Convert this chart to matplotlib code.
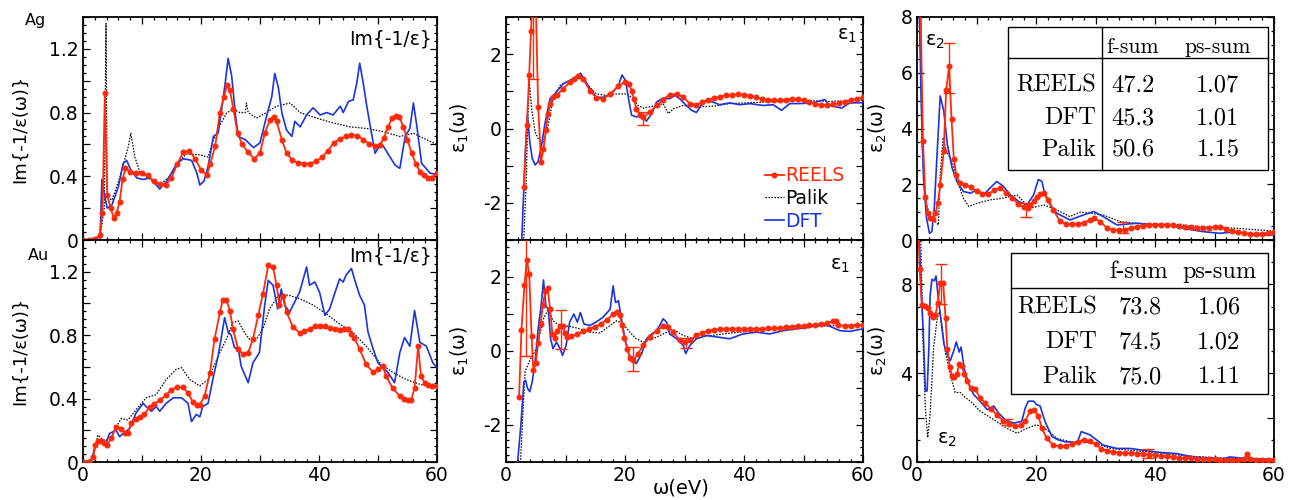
"""Loss function and dielectric function of Ag and Au: REELS vs Palik vs DFT."""

import matplotlib
matplotlib.use("Agg")
import matplotlib.pyplot as plt
from matplotlib.patches import Rectangle
from matplotlib.ticker import MultipleLocator, FuncFormatter

plt.rcParams["font.family"] = ["DejaVu Sans"]
plt.rcParams["axes.unicode_minus"] = False
plt.rcParams["mathtext.default"] = "regular"

RED = "#ff2a0a"
BLUE = "#1a34e0"

# ---------------- data: (omega eV, value) ----------------
ag_loss_reels = [(0, 0), (1, 0), (2, 0.005), (2.8, 0.03), (3.3, 0.17), (3.7, 0.92), (4.1, 0.28), (4.7, 0.20),
                 (5.2, 0.14), (5.7, 0.17), (6.2, 0.24), (6.7, 0.38), (7.2, 0.45), (8, 0.43), (9, 0.42), (10, 0.42),
                 (11, 0.405), (12, 0.37), (13, 0.35), (14, 0.345), (15, 0.39), (16, 0.48), (17, 0.55), (18, 0.56),
                 (19, 0.51), (20, 0.44), (21, 0.41), (21.6, 0.48), (22.4, 0.59), (23.2, 0.80), (23.9, 0.90),
                 (24.4, 0.975), (24.9, 0.94), (25.5, 0.82), (26.2, 0.67), (27, 0.60), (28, 0.55), (29, 0.51),
                 (30, 0.545), (30.8, 0.67), (31.7, 0.755), (32.3, 0.775), (32.8, 0.745), (33.7, 0.63), (34.5, 0.545),
                 (35.5, 0.50), (36.5, 0.485), (37.5, 0.48), (38.5, 0.48), (39.5, 0.495), (40.5, 0.52), (41.5, 0.56),
                 (42.5, 0.61), (43.5, 0.635), (44.5, 0.65), (45.5, 0.66), (46.5, 0.655), (47.5, 0.63), (48.5, 0.605),
                 (49.5, 0.59), (50.3, 0.595), (51, 0.64), (51.7, 0.71), (52.4, 0.765), (53, 0.78), (53.6, 0.775),
                 (54.3, 0.71), (55, 0.63), (55.7, 0.545), (56.4, 0.48), (57.1, 0.43), (57.8, 0.405), (58.5, 0.39),
                 (59.2, 0.39), (60, 0.42)]
ag_loss_dft = [(0, 0), (2.9, 0), (3.2, 0.38), (3.6, 0.29), (4.1, 0.20), (4.9, 0.22), (6.0, 0.335), (6.8, 0.48),
               (7.4, 0.50), (8.1, 0.44), (9.1, 0.39), (10.2, 0.38), (11.4, 0.39), (13.0, 0.32), (14.2, 0.37),
               (15.9, 0.48), (17.0, 0.51), (18.4, 0.50), (19.3, 0.42), (19.8, 0.345), (20.5, 0.37), (21.2, 0.46),
               (22.1, 0.65), (22.9, 0.67), (23.5, 0.82), (24.1, 0.985), (24.6, 1.14), (25.2, 1.03), (25.8, 0.80),
               (26.3, 0.65), (27.5, 0.63), (28.9, 0.58), (30.0, 0.61), (31.1, 0.775), (32.0, 0.90), (32.5, 1.045),
               (33.1, 0.96), (33.7, 0.80), (34.5, 0.69), (35.4, 0.65), (35.9, 0.745), (36.8, 0.71), (37.9, 0.785),
               (39.0, 0.83), (40.2, 0.785), (41.3, 0.80), (42.4, 0.785), (43.6, 0.84), (44.1, 0.80), (45.0, 0.87),
               (45.8, 0.88), (46.4, 0.985), (46.9, 1.11), (47.5, 0.985), (48.1, 0.84), (48.9, 0.67), (49.5, 0.545),
               (50.1, 0.58), (50.9, 0.59), (51.8, 0.535), (52.9, 0.47), (53.7, 0.45), (54.6, 0.65), (55.4, 0.70),
               (56.0, 0.86), (56.6, 0.71), (57.4, 0.48), (57.9, 0.46), (58.8, 0.42), (60, 0.41)]
ag_loss_palik = [(0, 0), (2.9, 0.02), (3.6, 0.2), (3.9, 1.36), (4.1, 0.27), (4.9, 0.25), (6.3, 0.40), (7.7, 0.59),
                 (8.1, 0.67), (8.8, 0.52), (9.7, 0.42), (11.4, 0.38), (13.0, 0.345), (14.7, 0.40), (16.4, 0.50),
                 (17.6, 0.54), (19.8, 0.535), (21.2, 0.52), (22.1, 0.63), (23.2, 0.72), (24.4, 0.80), (25.5, 0.82),
                 (26.6, 0.80), (27.5, 0.80), (27.7, 0.86), (28.0, 0.80), (29.4, 0.765), (31.1, 0.80), (32.8, 0.84),
                 (35.1, 0.86), (36.8, 0.80), (39.6, 0.765), (42.4, 0.735), (45.3, 0.71), (48.1, 0.70), (50.9, 0.68),
                 (53.7, 0.65), (56.0, 0.67), (58.2, 0.63), (60, 0.60)]

au_loss_reels = [(0, 0), (1, 0), (1.7, 0.03), (2.1, 0.105), (2.5, 0.13), (3.1, 0.13), (3.6, 0.12), (4, 0.105),
                 (4.8, 0.15), (5.6, 0.22), (6.5, 0.21), (7.1, 0.18), (7.6, 0.185), (8.2, 0.245), (9, 0.27),
                 (9.7, 0.285), (10.4, 0.30), (11.3, 0.35), (12, 0.365), (13, 0.39), (14, 0.42), (15, 0.455),
                 (16, 0.475), (17, 0.47), (17.8, 0.435), (18.6, 0.38), (19.3, 0.36), (19.8, 0.36), (20.6, 0.415),
                 (21.5, 0.56), (22.3, 0.775), (23.2, 0.945), (23.7, 1.02), (24.3, 1.02), (24.9, 0.955), (25.4, 0.84),
                 (26.3, 0.71), (27.1, 0.68), (28, 0.69), (28.8, 0.775), (29.7, 0.925), (30.5, 1.06), (31.4, 1.24),
                 (32.2, 1.23), (32.8, 1.115), (33.3, 0.99), (33.9, 1.05), (34.5, 0.945), (35.6, 0.85), (36.7, 0.815),
                 (37.5, 0.825), (38.4, 0.84), (39.3, 0.855), (40.1, 0.86), (41, 0.855), (41.8, 0.845), (42.7, 0.84),
                 (43.5, 0.835), (44.2, 0.84), (44.9, 0.84), (45.5, 0.81), (46, 0.785), (46.9, 0.71), (48, 0.615),
                 (49.2, 0.565), (50, 0.585), (50.8, 0.605), (51.4, 0.54), (52.5, 0.465), (53.7, 0.415), (54.4, 0.40),
                 (55.1, 0.39), (55.6, 0.39), (56.2, 0.465), (56.8, 0.73), (57.3, 0.54), (57.9, 0.50), (58.5, 0.485),
                 (59.2, 0.48), (60, 0.48)]
au_loss_dft = [(0, 0), (1.4, 0), (2.0, 0.095), (2.8, 0.13), (4.0, 0.13), (4.5, 0.18), (5.6, 0.20), (6.2, 0.16),
               (6.8, 0.18), (7.9, 0.21), (9.0, 0.31), (10.2, 0.37), (10.7, 0.35), (11.6, 0.32), (12.4, 0.35),
               (13.0, 0.32), (14.1, 0.37), (15.3, 0.405), (16.7, 0.405), (17.8, 0.37), (18.4, 0.255), (19.2, 0.30),
               (19.8, 0.285), (20.3, 0.35), (21.2, 0.37), (22.0, 0.52), (22.9, 0.67), (23.4, 0.775), (24.0, 0.91),
               (24.6, 0.82), (25.1, 0.80), (25.7, 0.72), (26.3, 0.72), (26.8, 0.605), (28.0, 0.50), (28.8, 0.625),
               (29.9, 0.69), (30.8, 0.99), (31.4, 1.145), (32.2, 1.115), (33.0, 0.965), (33.6, 1.09), (34.2, 0.99),
               (35.0, 0.945), (35.9, 1.01), (36.7, 1.07), (37.9, 1.23), (38.4, 1.115), (39.3, 1.135), (40.1, 1.07),
               (41.0, 0.925), (41.8, 0.965), (42.9, 1.09), (43.5, 1.155), (44.1, 1.135), (44.6, 1.18), (45.5, 1.22),
               (46.0, 1.155), (46.9, 1.05), (47.7, 0.99), (48.3, 0.82), (49.2, 0.71), (50.0, 0.625), (50.8, 0.595),
               (51.7, 0.565), (52.8, 0.50), (53.7, 0.69), (54.5, 0.785), (55.4, 0.73), (56.2, 0.955), (57.1, 0.755),
               (58.2, 0.73), (59.3, 0.625), (60, 0.595)]
au_loss_palik = [(0, 0), (1.7, 0.02), (2.5, 0.17), (3.4, 0.14), (4.5, 0.14), (5.6, 0.22), (6.5, 0.275), (7.6, 0.265),
                 (9.0, 0.33), (10.7, 0.405), (12.4, 0.425), (14.1, 0.52), (15.8, 0.585), (16.7, 0.595), (18.1, 0.52),
                 (19.8, 0.48), (21.2, 0.52), (23.2, 0.69), (24.3, 0.775), (25.4, 0.88), (26.3, 0.89), (27.4, 0.815),
                 (28.2, 0.775), (29.4, 0.775), (30.5, 0.84), (31.6, 0.965), (33.3, 1.06), (35.0, 1.05), (36.7, 1.03),
                 (39.0, 0.99), (41.2, 0.935), (43.5, 0.87), (45.8, 0.815), (48.0, 0.73), (50.3, 0.625), (52.5, 0.565),
                 (54.8, 0.52), (57.1, 0.49), (60, 0.47)]

ag_eps1_reels = [(3, -1.58), (3.5, 0.1), (3.9, 1.44), (4.2, 2.62), (4.6, 4.0), (5.0, 3.5), (5.4, 0.58), (5.9, -0.89),
                 (6.3, -0.56), (6.7, -0.03), (7.1, 0.4), (7.4, 0.66), (7.9, 0.84), (8.5, 0.89), (9.6, 1.07),
                 (10.7, 1.24), (11.5, 1.33), (12.1, 1.42), (13, 1.33), (14.1, 1.02), (15.2, 0.82), (16.3, 0.80),
                 (17.5, 0.93), (18.9, 1.14), (20, 1.26), (20.7, 1.2), (21.1, 1.02), (21.5, 0.8), (21.9, 0.53),
                 (22.6, 0.36), (23.1, 0.31), (24.2, 0.44), (25.3, 0.62), (26.4, 0.78), (27.5, 0.91), (28.7, 0.93),
                 (29.8, 0.84), (30.9, 0.67), (32, 0.64), (33, 0.70), (34, 0.77), (35, 0.82), (36, 0.86), (37, 0.89),
                 (38, 0.91), (39, 0.915), (40, 0.91), (41, 0.88), (42, 0.84), (43, 0.8), (44, 0.775), (45, 0.765),
                 (46, 0.76), (47, 0.77), (48, 0.79), (49, 0.80), (50, 0.76), (51, 0.71), (52, 0.66), (53, 0.62),
                 (54, 0.63), (55, 0.65), (56, 0.68), (57, 0.72), (58, 0.77), (59, 0.80), (60, 0.84)]
ag_eps1_dft = [(2.6, -3.2), (3.2, -0.8), (3.6, 0.36), (4.0, -0.36), (4.4, -0.8), (4.9, -0.98), (5.4, -0.89),
               (6.0, -0.44), (6.5, 0.09), (7.4, 0.8), (8.2, 0.93), (9.6, 1.2), (10.7, 1.29), (11.9, 1.38), (12.5, 1.49),
               (13.3, 1.29), (14.1, 1.07), (15.2, 0.84), (16.3, 0.84), (17.7, 0.93), (18.9, 1.16), (19.5, 1.44),
               (20.1, 1.29), (20.6, 0.8), (21.1, 0.36), (21.9, 0.31), (22.8, 0.36), (23.6, 0.2), (24.5, 0.4),
               (25.3, 0.71), (26.4, 0.82), (27.5, 0.80), (28.4, 0.89), (29.2, 0.80), (30.3, 0.62), (31.2, 0.49),
               (32.0, 0.43), (32.8, 0.62), (33.7, 0.76), (34.8, 0.71), (35.9, 0.64), (37.6, 0.69), (39.3, 0.64),
               (41.0, 0.67), (43.2, 0.62), (44.9, 0.64), (46.3, 0.49), (47.7, 0.67), (49.4, 0.67), (51.6, 0.69),
               (53.6, 0.78), (54.4, 0.62), (56.4, 0.55), (57.8, 0.69), (60, 0.69)]
ag_eps1_palik = [(2.9, -3.2), (3.0, -2.9), (3.4, -1.42), (3.6, -0.09), (3.9, 1.29), (4.3, 0.53), (4.9, -0.09),
                 (5.4, -0.27), (6.3, -0.36), (7.1, 0.09), (7.9, 0.8), (9.1, 1.16), (10.7, 1.29), (11.9, 1.42),
                 (13.0, 1.29), (14.1, 1.11), (15.2, 0.93), (16.9, 0.89), (18.6, 0.93), (20.3, 0.93), (21.4, 0.8),
                 (22.2, 0.62), (23.1, 0.55), (25.3, 0.62), (26.4, 0.67), (27.3, 0.4), (28.1, 0.53), (29.8, 0.62),
                 (32.0, 0.58), (34.8, 0.6), (37.6, 0.67), (43.2, 0.71), (48.8, 0.76), (54.4, 0.73), (60, 0.76)]

au_eps1_reels = [(2.2, -1.23), (2.6, 0.58), (3.1, 1.79), (3.5, 2.47), (3.9, 2.09), (4.3, 0.4), (4.6, -0.52),
                 (5.0, -0.32), (5.4, 0.21), (5.8, 0.73), (6.2, 1.24), (6.6, 1.63), (7.0, 1.71), (7.4, 1.13), (7.8, 0.46),
                 (8.2, 0.36), (8.6, 0.53), (9.1, 0.67), (9.5, 0.67), (9.9, 0.49), (10.2, 0.37), (11, 0.40), (12, 0.46),
                 (13, 0.53), (14, 0.59), (15, 0.66), (16, 0.74), (17, 0.85), (18, 0.99), (18.6, 1.06), (19.1, 0.96),
                 (19.5, 0.71), (19.9, 0.35), (20.4, 0.06), (20.8, -0.18), (21.4, -0.25), (22.2, -0.07), (23.1, 0.17),
                 (24.2, 0.38), (25.3, 0.55), (26.4, 0.67), (27.3, 0.64), (28.1, 0.51), (29.2, 0.29), (30, 0.24),
                 (30.9, 0.29), (32, 0.42), (33, 0.49), (34, 0.55), (35, 0.58), (36, 0.59), (37, 0.6), (38, 0.6),
                 (39, 0.6), (40, 0.6), (41, 0.6), (42, 0.6), (43, 0.6), (44, 0.61), (45, 0.61), (46, 0.62), (47, 0.64),
                 (48, 0.66), (49, 0.67), (50, 0.68), (51, 0.69), (52, 0.71), (53, 0.73), (54, 0.76), (55, 0.80),
                 (55.5, 0.82), (55.8, 0.71), (57, 0.67), (58, 0.68), (59, 0.69), (60, 0.69)]
au_eps1_dft = [(1.9, -3.1), (2.5, -2.0), (3.0, -0.83), (3.3, -0.79), (3.6, -1.0), (4.0, -1.1), (4.4, -0.83),
               (4.9, -0.29), (5.4, 0.6), (5.9, 1.22), (6.3, 1.92), (6.7, 1.22), (7.1, 1.13), (7.5, 0.33), (7.9, 0.06),
               (8.5, 0.24), (9.1, 0.06), (9.5, -0.12), (10.1, 0.15), (10.7, 0.78), (11.4, 1.0), (12.0, 0.78),
               (12.5, 1.04), (13.1, 0.73), (14.1, 0.69), (15.2, 0.79), (16.3, 0.91), (17.5, 1.13), (18.0, 1.76),
               (18.4, 1.31), (18.9, 1.36), (19.4, 0.87), (20.0, 0.33), (20.5, -0.03), (21.2, -0.25), (21.9, -0.34),
               (22.8, -0.07), (23.6, 0.33), (24.5, 0.46), (25.3, 0.55), (25.9, 0.71), (26.4, 0.87), (27.0, 0.78),
               (27.5, 0.46), (28.7, 0.33), (29.8, 0.15), (30.2, -0.07), (30.9, 0.15), (32.0, 0.33), (33.7, 0.42),
               (35.4, 0.38), (37.6, 0.33), (39.8, 0.46), (42.1, 0.51), (44.3, 0.46), (46.6, 0.55), (48.8, 0.6),
               (51.0, 0.64), (52.7, 0.73), (54.4, 0.67), (56.1, 0.55), (57.8, 0.53), (60, 0.6)]
au_eps1_palik = [(2.4, -3.1), (3.2, -0.56), (4.0, -0.25), (5.1, 0.06), (6.3, 0.87), (7.1, 1.13), (7.9, 0.82),
                 (9.1, 0.67), (10.7, 0.67), (12.4, 0.6), (14.1, 0.51), (15.8, 0.49), (17.5, 0.69), (18.6, 0.82),
                 (19.7, 0.73), (20.8, 0.51), (21.9, 0.33), (23.1, 0.24), (24.7, 0.33), (26.4, 0.46), (28.1, 0.58),
                 (29.8, 0.42), (31.5, 0.33), (33.7, 0.4), (36.5, 0.46), (40.4, 0.53), (46.0, 0.62), (51.6, 0.67),
                 (55.5, 0.69), (60, 0.71)]

ag_eps2_reels = [(0.5, 9.5), (1.0, 3.55), (1.4, 1.56), (1.8, 0.96), (2.2, 0.78), (2.7, 0.76), (3.1, 0.96), (3.5, 1.32),
                 (3.9, 1.96), (4.5, 3.21), (4.9, 5.38), (5.4, 6.23), (5.8, 4.33), (6.2, 2.89), (6.6, 2.32), (7.2, 2.05),
                 (8, 1.97), (9, 1.9), (10, 1.76), (11, 1.66), (12, 1.66), (13, 1.78), (14, 1.87), (15, 1.7), (16, 1.5),
                 (17, 1.3), (18, 1.17), (18.6, 1.15), (19, 1.24), (19.6, 1.4), (20.1, 1.56), (20.7, 1.65), (21.3, 1.68),
                 (22.1, 1.44), (22.9, 1.08), (24, 0.68), (25, 0.58), (26, 0.56), (27, 0.58), (28, 0.62), (29, 0.72),
                 (29.7, 0.78), (30.8, 0.66), (32, 0.42), (33, 0.36), (34, 0.35), (35, 0.37), (36, 0.43), (37, 0.48),
                 (38, 0.51), (39, 0.53), (40, 0.55), (41, 0.55), (42, 0.55), (43, 0.53), (44, 0.50), (45, 0.48),
                 (46, 0.45), (47, 0.43), (48, 0.42), (49, 0.44), (50, 0.46), (51, 0.45), (52, 0.40), (53, 0.33),
                 (54, 0.28), (55, 0.24), (56, 0.22), (57, 0.22), (58, 0.23), (59, 0.26), (60, 0.3)]
ag_eps2_dft = [(0.3, 9.0), (0.7, 5.0), (1.1, 2.2), (1.6, 0.78), (2.1, 0.24), (2.5, 0.3), (2.9, 1.14), (3.4, 3.19),
               (3.9, 5.17), (4.5, 4.63), (5.1, 3.43), (5.9, 2.59), (6.7, 2.1), (7.8, 1.74), (9.0, 1.68), (10.1, 1.81),
               (11.2, 1.62), (12.3, 1.87), (13.4, 2.1), (14.5, 1.93), (15.7, 1.62), (17.1, 1.38), (18.5, 1.26),
               (19.6, 1.62), (20.4, 2.17), (21.0, 2.1), (21.5, 1.62), (22.4, 1.26), (23.5, 0.96), (25.7, 0.72),
               (28.0, 0.9), (29.7, 1.02), (31.3, 0.84), (33.6, 0.54), (36.9, 0.6), (39.7, 0.54), (42.5, 0.52),
               (45.3, 0.4), (48.1, 0.3), (50.9, 0.24), (53.7, 0.3), (56.5, 0.18), (60, 0.18)]
ag_eps2_palik = [(0.6, 9.0), (0.8, 3.55), (1.4, 1.38), (2.2, 0.9), (3.1, 0.66), (3.6, 0.54), (3.9, 2.35), (4.4, 3.67),
                 (4.9, 3.19), (5.9, 2.83), (7.0, 1.99), (7.8, 1.5), (8.7, 1.2), (10.1, 1.32), (12.3, 1.44), (14.5, 1.5),
                 (16.8, 1.62), (19.0, 1.14), (21.3, 1.26), (23.5, 1.08), (25.7, 0.84), (27.4, 1.0), (29.1, 0.96),
                 (31.3, 0.9), (34.1, 0.66), (36.9, 0.6), (42.5, 0.57), (48.1, 0.48), (53.7, 0.42), (60, 0.32)]

au_eps2_reels = [(0.2, 10.5), (0.45, 8.69), (0.8, 7.09), (1.4, 7.04), (1.8, 6.94), (2.2, 6.71), (2.7, 6.52),
                 (3.1, 6.63), (3.5, 7.16), (3.9, 8.08), (4.4, 8.05), (4.8, 6.48), (5.1, 5.1), (5.5, 4.27), (5.9, 3.89),
                 (6.3, 3.81), (6.7, 3.96), (7.1, 4.42), (7.6, 4.34), (7.9, 3.96), (8.4, 3.66), (9, 3.35), (9.8, 3.28),
                 (10.6, 2.9), (11.5, 2.65), (12.5, 2.37), (13.5, 2.1), (14.5, 1.85), (15.5, 1.7), (16.5, 1.6),
                 (17.4, 1.65), (18.2, 1.85), (19, 2.29), (19.7, 2.36), (20.4, 2.06), (21, 1.52), (21.8, 1.07),
                 (22.9, 0.76), (24, 0.7), (25, 0.7), (26, 0.8), (27, 0.92), (28, 0.99), (29, 0.95), (30, 0.8), (31, 0.6),
                 (32, 0.5), (33, 0.45), (34, 0.42), (35, 0.41), (36, 0.4), (37, 0.38), (38, 0.36), (39, 0.33),
                 (40, 0.3), (41, 0.28), (42, 0.25), (43, 0.22), (44, 0.2), (45, 0.17), (46, 0.16), (47, 0.15),
                 (48, 0.15), (49, 0.14), (50, 0.12), (51, 0.09), (52, 0.08), (53, 0.08), (54, 0.09), (55, 0.15),
                 (55.5, 0.35), (56, 0.15), (57, 0.1), (58, 0.08), (59, 0.08), (60, 0.08)]
au_eps2_dft = [(0.3, 10.5), (0.8, 7.3), (1.1, 5.5), (1.4, 3.2), (1.7, 3.2), (2.0, 5.18), (2.2, 7.47), (2.5, 8.23),
               (2.9, 8.16), (3.2, 8.38), (3.6, 7.32), (4.0, 6.48), (4.5, 5.34), (5.0, 4.88), (5.6, 4.57), (6.2, 5.03),
               (6.6, 5.41), (7.1, 4.95), (7.4, 5.18), (8.0, 4.12), (8.7, 3.51), (9.5, 3.05), (10.6, 2.74), (11.8, 2.36),
               (12.9, 2.52), (13.7, 2.21), (14.8, 1.91), (16.2, 1.75), (17.6, 1.83), (18.2, 2.44), (18.7, 2.74),
               (19.6, 2.74), (20.1, 2.59), (20.7, 2.52), (21.5, 1.83), (22.7, 1.14), (23.8, 0.99), (24.9, 0.91),
               (25.7, 0.91), (26.9, 0.84), (27.6, 1.37), (28.3, 1.3), (29.1, 1.22), (30.2, 0.99), (31.3, 0.76),
               (33.6, 0.61), (35.8, 0.61), (38.0, 0.53), (40.9, 0.43), (43.6, 0.38), (46.4, 0.23), (49.2, 0.18),
               (51.5, 0.15), (52.6, 0.23), (54.3, 0.18), (56.0, 0.15), (60, 0.12)]
au_eps2_palik = [(0.6, 10.5), (1.0, 5.5), (1.4, 2.44), (1.8, 1.1), (2.2, 2.13), (2.8, 5.18), (3.4, 6.48), (3.8, 6.78),
                 (4.2, 6.1), (4.8, 4.88), (5.6, 3.96), (6.4, 3.13), (7.3, 3.13), (8.1, 2.9), (9.0, 2.74), (10.6, 2.29),
                 (12.9, 1.91), (15.1, 1.52), (16.8, 1.3), (18.5, 1.52), (20.1, 1.68), (21.8, 1.45), (23.5, 1.07),
                 (25.7, 0.91), (28.0, 0.91), (30.2, 0.84), (32.5, 0.61), (35.8, 0.53), (39.7, 0.43), (45.3, 0.27),
                 (50.9, 0.18), (60, 0.12)]

# REELS error bars: (omega, lower, upper)
ag_eps1_err = [(4.6, 1.32, 3.6), (23.1, 0.09, 0.44)]
au_eps1_err = [(3.3, -0.13, 3.5), (9.2, 0.06, 1.12), (21.4, -0.54, 0.11), (30.3, 0.08, 0.35)]
ag_eps2_err = [(5.4, 5.27, 7.08), (18.4, 0.84, 1.32), (34.7, 0.26, 0.63)]
au_eps2_err = [(4.1, 7.13, 8.92), (15.1, 1.68, 1.94), (38.8, 0.18, 0.58)]

table_rows = ["REELS", "DFT", "Palik"]
table_header = ["f-sum", "ps-sum"]
ag_fsum = ["47.2", "45.3", "50.6"]
ag_pssum = ["1.07", "1.01", "1.15"]
au_fsum = ["73.8", "74.5", "75.0"]
au_pssum = ["1.06", "1.02", "1.11"]


def _xy(pairs):
    return [p[0] for p in pairs], [p[1] for p in pairs]


def _draw(ax, reels, dft, palik, err=None):
    ax.plot(*_xy(palik), color="black", lw=0.9, ls=(0, (1.2, 1.2)), label="Palik", zorder=2)
    ax.plot(*_xy(dft), color=BLUE, lw=1.2, label="DFT", zorder=3)
    ax.plot(*_xy(reels), color=RED, lw=1.3, marker="o", ms=3.3, mec=RED, mfc=RED, label="REELS", zorder=4)
    if err:
        ex = [e[0] for e in err]
        mid = [(e[1] + e[2]) / 2 for e in err]
        half = [(e[2] - e[1]) / 2 for e in err]
        ax.errorbar(ex, mid, yerr=half, fmt="none", ecolor=RED, elinewidth=1.0, capsize=4.5, capthick=1.0, zorder=5)


def _style(ax, ymaj, ylabel_every, ymin, bottom):
    ax.set_xlim(0, 60)
    ax.xaxis.set_major_locator(MultipleLocator(10))
    ax.xaxis.set_minor_locator(MultipleLocator(2))
    ax.xaxis.set_major_formatter(FuncFormatter(lambda v, p: f"{v:.0f}" if round(v) % 20 == 0 else ""))
    ax.yaxis.set_major_locator(MultipleLocator(ymaj))
    ax.yaxis.set_minor_locator(MultipleLocator(ymin))

    def fmt(v, p):
        k = v / ylabel_every
        if abs(k - round(k)) > 1e-6:
            return ""
        return f"{v:.0f}" if abs(v - round(v)) < 1e-6 else f"{v:.1f}"
    ax.yaxis.set_major_formatter(FuncFormatter(fmt))
    ax.tick_params(which="both", direction="in", top=True, right=True, labelsize=13.5, width=0.9)
    ax.tick_params(which="major", length=5)
    ax.tick_params(which="minor", length=2.5)
    ax.tick_params(axis="x", labelbottom=bottom, pad=3)
    for s in ax.spines.values():
        s.set_linewidth(1.3)


def _table(ax, box, vline, hline, hx, rx, cx, row_y, head_y, head_size, fsum, pssum):
    x0, y0, x1, y1 = box
    ax.add_patch(Rectangle((x0, y0), x1 - x0, y1 - y0, transform=ax.transAxes, facecolor="white",
                           edgecolor="black", lw=1.0, zorder=6))
    ax.plot([x0, x1], [hline, hline], transform=ax.transAxes, color="black", lw=1.0, zorder=7)
    if vline is not None:
        ax.plot([vline, vline], [y0, y1], transform=ax.transAxes, color="black", lw=1.0, zorder=7)
    kw = dict(transform=ax.transAxes, family="cmr10", va="center", zorder=8)
    ax.text(hx[0], head_y, table_header[0], ha="center", fontsize=head_size, **kw)
    ax.text(hx[1], head_y, table_header[1], ha="center", fontsize=head_size, **kw)
    for name, f, p, y in zip(table_rows, fsum, pssum, row_y):
        ax.text(rx, y, name, ha="right", fontsize=17.5, **kw)
        ax.text(cx[0], y, f, ha="center", fontsize=17.5, **kw)
        ax.text(cx[1], y, p, ha="center", fontsize=17.5, **kw)


fig = plt.figure(figsize=(13.02, 5.0), dpi=100)
W, H = 1302.0, 500.0
col_left = [83, 506, 917]
col_width = [354, 357, 357]
row_span = [(17, 240), (240, 462)]
axes = [[None] * 3 for _ in range(2)]
for r, (t, b) in enumerate(row_span):
    for c in range(3):
        axes[r][c] = fig.add_axes([col_left[c] / W, (H - b) / H, col_width[c] / W, (b - t) / H])

# left column: loss function
ax = axes[0][0]
_draw(ax, ag_loss_reels, ag_loss_dft, ag_loss_palik)
ax.set_ylim(0, 1.4)
_style(ax, 0.2, 0.4, 0.05, False)
ax = axes[1][0]
_draw(ax, au_loss_reels, au_loss_dft, au_loss_palik)
ax.set_ylim(0, 1.4)
_style(ax, 0.2, 0.4, 0.05, True)
for ax, yy in zip((axes[0][0], axes[1][0]), (0.90, 0.928)):
    ax.text(0.985, yy, "Im{-1/ε}", transform=ax.transAxes, ha="right", va="center", fontsize=13.5)
    ax.set_ylabel("Im{-1/ε(ω)}", fontsize=13)
    ax.yaxis.set_label_coords(-0.152, 0.5)

# middle column: eps1
ax = axes[0][1]
_draw(ax, ag_eps1_reels, ag_eps1_dft, ag_eps1_palik, ag_eps1_err)
ax.set_ylim(-3, 3)
_style(ax, 1, 2, 0.2, False)
ax.legend(loc="lower right", bbox_to_anchor=(0.975, 0.0), frameon=False, fontsize=13.5, handlelength=1.0,
          handletextpad=0.1, labelspacing=0.2, borderaxespad=0.1, labelcolor="linecolor",
          handles=[ax.lines[2], ax.lines[0], ax.lines[1]])
ax = axes[1][1]
_draw(ax, au_eps1_reels, au_eps1_dft, au_eps1_palik, au_eps1_err)
ax.set_ylim(-3, 3)
_style(ax, 1, 2, 0.2, True)
ax.set_xlabel("ω(eV)", fontsize=14)
ax.xaxis.set_label_coords(0.49, -0.075)
axes[0][1].text(0.983, 0.915, "ε$_1$", transform=axes[0][1].transAxes, ha="right", va="center", fontsize=14)
axes[1][1].text(0.964, 0.887, "ε$_1$", transform=axes[1][1].transAxes, ha="right", va="center", fontsize=14)
for ax in (axes[0][1], axes[1][1]):
    ax.set_ylabel("ε$_1$(ω)", fontsize=13.5)
    ax.yaxis.set_label_coords(-0.097, 0.5)

# right column: eps2
ax = axes[0][2]
_draw(ax, ag_eps2_reels, ag_eps2_dft, ag_eps2_palik, ag_eps2_err)
ax.set_ylim(0, 8)
_style(ax, 2, 2, 0.5, False)
ax.text(0.022, 0.888, "ε$_2$", transform=ax.transAxes, ha="left", va="center", fontsize=14, zorder=9)
_table(ax, (0.255, 0.314, 0.983, 0.955), 0.518, 0.816, (0.605, 0.842), 0.501, (0.605, 0.843),
       (0.695, 0.547, 0.404), 0.865, 15.5, ag_fsum, ag_pssum)
ax = axes[1][2]
_draw(ax, au_eps2_reels, au_eps2_dft, au_eps2_palik, au_eps2_err)
ax.set_ylim(0, 10)
_style(ax, 2, 4, 1, True)
ax.text(0.056, 0.10, "ε$_2$", transform=ax.transAxes, ha="left", va="center", fontsize=14, zorder=9)
_table(ax, (0.263, 0.306, 0.983, 0.941), None, 0.784, (0.622, 0.846), 0.505, (0.625, 0.846),
       (0.694, 0.54, 0.383), 0.856, 17.5, au_fsum, au_pssum)
for ax in (axes[0][2], axes[1][2]):
    ax.set_ylabel("ε$_2$(ω)", fontsize=13.5)
    ax.yaxis.set_label_coords(-0.078, 0.5)

fig.text(25 / W, (H - 21) / H, "Ag", fontsize=11.5, ha="left", va="center")
fig.text(28 / W, (H - 255) / H, "Au", fontsize=11.5, ha="left", va="center")

fig.savefig("out.png", dpi=100)
plt.close(fig)
